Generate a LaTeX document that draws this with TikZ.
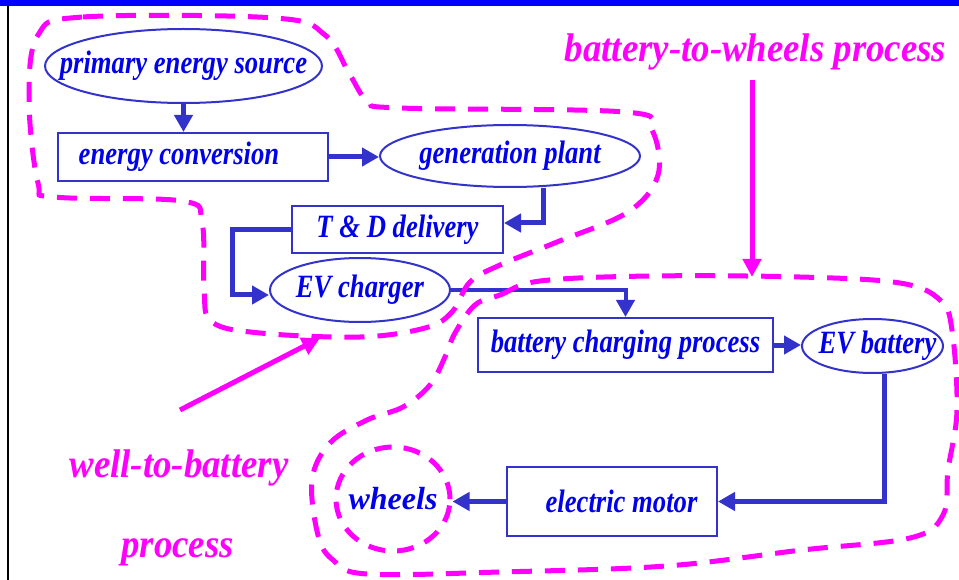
\documentclass[tikz,border=0pt]{standalone}
\usepackage{fontspec}
\setmainfont{Liberation Serif}
\newfontfamily\nodefont{Liberation Serif}[FakeStretch=0.82]
\newfontfamily\tagfont{Liberation Serif}[FakeStretch=0.92]
\usepackage{tikz}
\usetikzlibrary{arrows.meta,shapes.geometric}
\definecolor{boxblue}{RGB}{51,51,204}
\definecolor{textblue}{RGB}{0,0,235}
\definecolor{zonemagenta}{RGB}{255,0,255}
\definecolor{ruleblue}{RGB}{0,0,255}
\newcommand{\flatbox}[1]{\makebox[0pt]{#1}}

\begin{document}
\begin{tikzpicture}[x=1pt, y=-1pt,
    part/.style={draw=boxblue, line width=2pt, text=textblue, inner sep=0pt, font=\nodefont\bfseries\itshape\fontsize{32.5}{36}\selectfont},
    unit/.style={part, rectangle},
    store/.style={part, ellipse},
    flow/.style={draw=boxblue, line width=5pt, -{Triangle[length=17pt,width=18pt]}},
    zone/.style={draw=zonemagenta, line width=5pt, dash pattern=on 20pt off 13pt},
    tag/.style={text=zonemagenta, inner sep=0pt, font=\tagfont\bfseries\itshape\fontsize{40}{44}\selectfont},
    pointer/.style={draw=zonemagenta, line width=5pt, -{Triangle[length=18pt,width=18pt]}}]
\useasboundingbox (0,0) rectangle (959,580);
\fill[ruleblue] (0,0.5) rectangle (959,6.5);
\draw[black, line width=2pt] (8.3,6) -- (8.3,580);

\node[store, minimum width=277pt, minimum height=74pt] (source) at (183.5,66) {\flatbox{primary energy source}};
\node[unit, minimum width=270pt, minimum height=48pt] (conv) at (193,157) {\flatbox{\hspace{-28pt}energy conversion}};
\node[store, minimum width=260pt, minimum height=62pt] (plant) at (510,156) {\flatbox{generation plant}};
\node[unit, minimum width=211pt, minimum height=47pt] (delivery) at (397.5,229.5) {T \& D delivery};
\node[store, minimum width=180pt, minimum height=64pt] (charger) at (360,290) {\flatbox{EV charger}};
\node[unit, minimum width=295pt, minimum height=54pt] (charging) at (625.5,345) {battery charging process};
\node[store, minimum width=141pt, minimum height=54pt] (battery) at (872.5,346) {\flatbox{\hspace{10pt}EV battery}};
\node[unit, minimum width=210pt, minimum height=69pt] (motor) at (612,501.5) {\flatbox{\hspace{19pt}electric motor}};
\node[ellipse, draw=zonemagenta, line width=5pt, dash pattern=on 17pt off 12pt, text=textblue, inner sep=0pt, minimum width=114pt, minimum height=104pt, font=\bfseries\itshape\fontsize{32}{34}\selectfont] (wheels) at (393,499) {\flatbox{wheels}};

\draw[flow] (source.south) -- (source.south |- conv.north);
\draw[flow] (conv.east) -- (conv.east -| plant.west);
\draw[flow] ([xshift=33pt]plant.south) |- ([yshift=6.5pt]delivery.east);
\draw[flow] (delivery.west) -- ++(-59,0) |- ([yshift=-5pt]charger.west);
\draw[flow, line width=4pt] (charger.east) -| (charging.north);
\draw[flow] (charging.east) -- (charging.east -| battery.west);
\draw[flow] ([xshift=11.5pt]battery.south) |- (motor.east);
\draw[flow] (motor.west) -- (motor.west -| wheels.east);

\node[tag, anchor=base] (btw) at (755.5,62) {battery-to-wheels process};
\node[tag, anchor=base] (wtb) at (179,477) {well-to-battery};
\node[tag, anchor=base] (wtbproc) at (177.5,557) {process};

\coordinate (btwtail) at (752,80);
\coordinate (btwtip) at (752,277);
\draw[pointer] (btwtail) -- (btwtip);
\coordinate (wtbtail) at (180,410);
\coordinate (wtbtip) at (320,338);
\draw[pointer] (wtbtail) -- (wtbtip);

\draw[zone] plot[smooth cycle, tension=0.6] coordinates {
    (38,35) (83,17) (275,18) (325,35) (350,75) (368,101) (400,108) (625,112)
    (652,130) (658,175) (628,212) (557,242) (500,265) (470,282) (452,312)
    (425,328) (360,337) (260,333) (212,322) (204,290) (202,222) (182,201)
    (55,197) (38,183) (29,100)};
\draw[zone] plot[smooth cycle, tension=0.6] coordinates {
    (475,305) (500,295) (540,281) (650,276) (800,277) (900,283) (940,300)
    (952,330) (957,410) (948,470) (943,515) (910,538) (802,550) (666,566)
    (500,572) (367,574) (333,560) (318,535) (312,480) (330,443) (367,420)
    (403,407) (430,385) (445,357) (455,333)};
\end{tikzpicture}
\end{document}
